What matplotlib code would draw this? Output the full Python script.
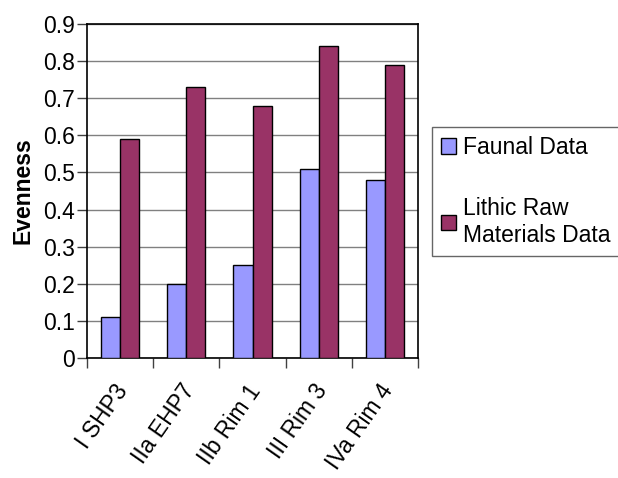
import matplotlib
matplotlib.use("Agg")
import matplotlib.pyplot as plt
import matplotlib.transforms as mtransforms
import numpy as np
from matplotlib.patches import Patch

plt.rcParams['font.family'] = ['Liberation Sans', 'DejaVu Sans']

categories = ["I SHP3", "IIa EHP7", "IIb Rim 1", "III Rim 3", "IVa Rim 4"]
faunal = [0.11, 0.20, 0.25, 0.51, 0.48]
lithic = [0.59, 0.73, 0.68, 0.84, 0.79]
series_names = ["Faunal Data", "Lithic Raw\nMaterials Data"]
yticks = [0, 0.1, 0.2, 0.3, 0.4, 0.5, 0.6, 0.7, 0.8, 0.9]

c_faunal = "#9999FF"
c_lithic = "#993366"
fs = 16.5

fig = plt.figure(figsize=(6.18, 4.78), dpi=100)
ax = fig.add_axes([87 / 618, 1 - 358 / 478, (418 - 87) / 618, (358 - 24) / 478])

x = np.arange(len(categories))
w = 0.29
ax.bar(x - w / 2, faunal, w, color=c_faunal, edgecolor="black", linewidth=1.0, zorder=3)
ax.bar(x + w / 2, lithic, w, color=c_lithic, edgecolor="black", linewidth=1.0, zorder=3)

ax.set_xlim(-0.5, len(categories) - 0.5)
ax.set_ylim(0, 0.9)
ax.set_yticks(yticks)
ax.set_yticklabels(["0" if v == 0 else f"{v:.1f}" for v in yticks], fontsize=fs)
ax.yaxis.grid(True, color="#808080", linewidth=1.0, zorder=0)
ax.tick_params(axis="y", direction="out", length=7, width=1, pad=2, color="#404040")

# category boundary ticks, labels at category centres
ax.set_xticks(np.arange(-0.5, len(categories) + 0.5, 1.0))
ax.set_xticklabels([])
ax.set_xticks(x, minor=True)
ax.set_xticklabels(categories, minor=True, rotation=55, ha="right", va="top",
                   rotation_mode="anchor", fontsize=fs)
ax.tick_params(axis="x", which="major", direction="out", length=7, width=1, color="#404040")
ax.tick_params(axis="x", which="minor", length=0, pad=16)
shift = mtransforms.ScaledTranslation(-6 / 100, 0, fig.dpi_scale_trans)
for lbl in ax.get_xticklabels(minor=True):
    lbl.set_transform(lbl.get_transform() + shift)

for s in ax.spines.values():
    s.set_color("black")
    s.set_linewidth(1.2)

ax.set_ylabel("Evenness", fontsize=fs, fontweight="bold", labelpad=6)

handles = [Patch(facecolor=c_faunal, edgecolor="black"),
           Patch(facecolor=c_lithic, edgecolor="black")]
leg = fig.legend(handles, series_names, loc="upper left",
                 bbox_to_anchor=(432 / 618, 1 - 127 / 478), fontsize=fs,
                 frameon=True, fancybox=False, borderpad=0.4,
                 handlelength=0.65, handleheight=0.65, handletextpad=0.3,
                 labelspacing=1.65, borderaxespad=0)
leg.get_frame().set_edgecolor("#404040")
leg.get_frame().set_linewidth(1.0)

fig.savefig("out.png", dpi=100)
